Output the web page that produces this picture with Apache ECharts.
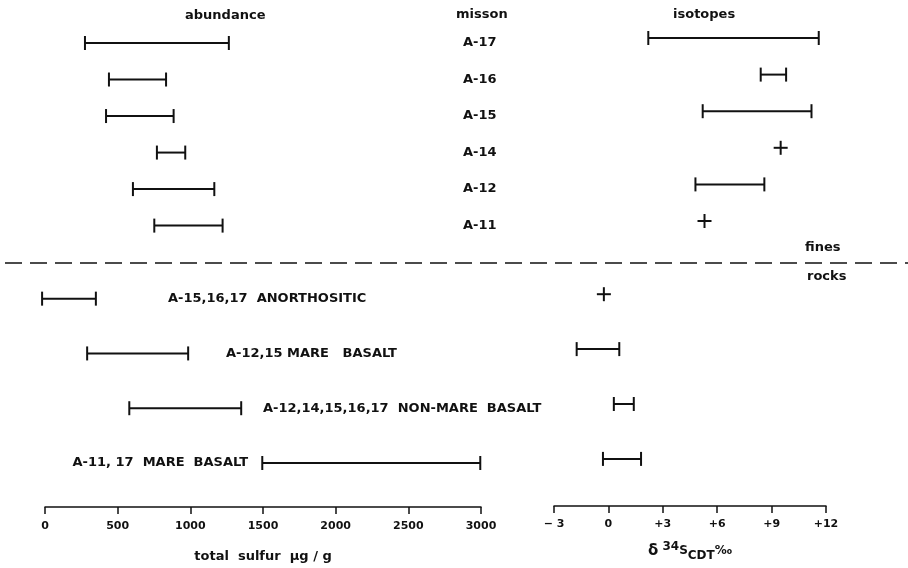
<!DOCTYPE html>
<html>
<head>
<meta charset="utf-8">
<script src="https://cdn.jsdelivr.net/npm/echarts@6/dist/echarts.min.js"></script>
<style>
html,body{margin:0;padding:0;background:#fff;}
#chart{width:908px;height:568px;}
</style>
</head>
<body>
<div id="chart"></div>
<script>
// ---- data ----
const missions = ['A-17', 'A-16', 'A-15', 'A-14', 'A-12', 'A-11'];
const finesSulfurLow  = [275, 440, 420, 770, 605, 752];
const finesSulfurHigh = [1265, 833, 885, 965, 1165, 1222];
const finesD34Low  = [2.2, 8.4, 5.2, 9.5, 4.8, 5.3];
const finesD34High = [11.6, 9.8, 11.2, 9.5, 8.6, 5.3];

const rockTypes = ['A-15,16,17  ANORTHOSITIC', 'A-12,15 MARE   BASALT', 'A-12,14,15,16,17  NON-MARE  BASALT', 'A-11, 17  MARE  BASALT'];
const rockSulfurLow  = [-20, 290, 580, 1495];
const rockSulfurHigh = [350, 985, 1350, 2995];
const rockD34Low  = [-0.25, -1.75, 0.3, -0.3];
const rockD34High = [-0.25, 0.6, 1.4, 1.8];

const sulfurTickLabels = ['0', '500', '1000', '1500', '2000', '2500', '3000'];
const d34TickLabels = ['\u2212 3', '0', '+3', '+6', '+9', '+12'];

// ---- layout helpers ----
const finesRow = i => i;
const rockRow = j => 7 + 1.5 * j;
const FONT = 'DejaVu Sans';

function buildData(lo, hi, rowFn) {
  return lo.map((v, i) => [v, hi[i], rowFn(i)]);
}
const leftData = buildData(finesSulfurLow, finesSulfurHigh, finesRow)
  .concat(buildData(rockSulfurLow, rockSulfurHigh, rockRow));
const rightData = buildData(finesD34Low, finesD34High, finesRow)
  .concat(buildData(rockD34Low, rockD34High, rockRow));

function renderBar(params, api) {
  const lo = api.value(0), hi = api.value(1), row = api.value(2);
  const p1 = api.coord([lo, row]);
  const p2 = api.coord([hi, row]);
  const st = {stroke: '#111', lineWidth: 2};
  if (lo === hi) {
    return {type: 'group', children: [
      {type: 'line', shape: {x1: p1[0] - 7, y1: p1[1], x2: p1[0] + 7, y2: p1[1]}, style: st},
      {type: 'line', shape: {x1: p1[0], y1: p1[1] - 7, x2: p1[0], y2: p1[1] + 7}, style: st}
    ]};
  }
  return {type: 'group', children: [
    {type: 'line', shape: {x1: p1[0], y1: p1[1], x2: p2[0], y2: p2[1]}, style: st},
    {type: 'line', shape: {x1: p1[0], y1: p1[1] - 7, x2: p1[0], y2: p1[1] + 7}, style: st},
    {type: 'line', shape: {x1: p2[0], y1: p2[1] - 7, x2: p2[0], y2: p2[1] + 7}, style: st}
  ]};
}

const axisCommon = {
  position: 'bottom',
  axisLine: {show: true, onZero: false, lineStyle: {color: '#111', width: 1.5}},
  axisTick: {show: true, inside: false, length: 7, lineStyle: {color: '#111', width: 1.5}},
  splitLine: {show: false},
  axisLabel: {color: '#111', fontFamily: FONT, fontWeight: 'bold', fontSize: 11}
};

const chart = echarts.init(document.getElementById('chart'), null, {renderer: 'canvas'});
const option = {
  animation: false,
  backgroundColor: '#fff',
  grid: [
    {left: 45, width: 436, top: 43, height: 465},
    {left: 554, width: 272, top: 38, height: 468}
  ],
  xAxis: [
    Object.assign({}, axisCommon, {
      gridIndex: 0, type: 'value', min: 0, max: 3000, interval: 500,
      axisLabel: Object.assign({}, axisCommon.axisLabel, {margin: 14,
        formatter: (v) => sulfurTickLabels[Math.round(v / 500)]}),
      name: 'total  sulfur  \u03bcg / g', nameLocation: 'middle', nameGap: 43,
      nameTextStyle: {color: '#111', fontFamily: FONT, fontWeight: 'bold', fontSize: 13}
    }),
    Object.assign({}, axisCommon, {
      gridIndex: 1, type: 'value', min: -3, max: 12, interval: 3,
      axisLabel: Object.assign({}, axisCommon.axisLabel, {margin: 13,
        formatter: (v) => d34TickLabels[Math.round((v + 3) / 3)]}),
      name: '{d|\u03b4} {sup|34}{s|S}{sub|CDT}{s|\u2030}', nameLocation: 'middle', nameGap: 34,
      nameTextStyle: {color: '#111', fontFamily: FONT, fontWeight: 'bold', fontSize: 12,
        rich: {
          d: {fontFamily: FONT, fontWeight: 'bold', fontSize: 15, color: '#111'},
          sup: {fontFamily: FONT, fontWeight: 'bold', fontSize: 12, color: '#111', padding: [0, 0, 8, 0]},
          s: {fontFamily: FONT, fontWeight: 'bold', fontSize: 12, color: '#111'},
          sub: {fontFamily: FONT, fontWeight: 'bold', fontSize: 12, color: '#111', padding: [10, 0, 0, 0]}
        }}
    })
  ],
  yAxis: [
    {gridIndex: 0, type: 'value', min: 0, max: 465 / 36.6, inverse: true, show: false},
    {gridIndex: 1, type: 'value', min: 0, max: 468 / 36.6, inverse: true, show: false}
  ],
  series: [
    {type: 'custom', xAxisIndex: 0, yAxisIndex: 0, renderItem: renderBar, data: leftData,
      encode: {x: [0, 1], y: 2}, clip: false},
    {type: 'custom', xAxisIndex: 1, yAxisIndex: 1, renderItem: renderBar, data: rightData,
      encode: {x: [0, 1], y: 2}, clip: false}
  ]
};
chart.setOption(option);

// ---- text annotations ----
const txt = (x, y, text, size, align) => ({
  type: 'text', x: x, y: y,
  style: {text: text, fill: '#111', font: 'bold ' + size + 'px "' + FONT + '"',
    textAlign: align || 'left', textVerticalAlign: 'middle'}
});
const rowY = (row) => chart.convertToPixel({xAxisIndex: 0, yAxisIndex: 0}, [0, row])[1];

const graphics = [
  txt(185, 16, 'abundance', 13),
  txt(456, 15, 'misson', 13),
  txt(673, 15, 'isotopes', 13),
  txt(805, 248, 'fines', 13),
  txt(807, 277, 'rocks', 13),
  {type: 'line', shape: {x1: 5, y1: 263, x2: 908, y2: 263},
    style: {stroke: '#111', lineWidth: 1.6, lineDash: [17, 8]}}
];
missions.forEach((m, i) => graphics.push(txt(463, rowY(finesRow(i)), m, 13)));
const rockLabelX = [168, 226, 263, 248];
const rockLabelAlign = ['left', 'left', 'left', 'right'];
rockTypes.forEach((r, j) => graphics.push(txt(rockLabelX[j], rowY(rockRow(j)), r, 13, rockLabelAlign[j])));

chart.setOption({graphic: graphics});
</script>
</body>
</html>
